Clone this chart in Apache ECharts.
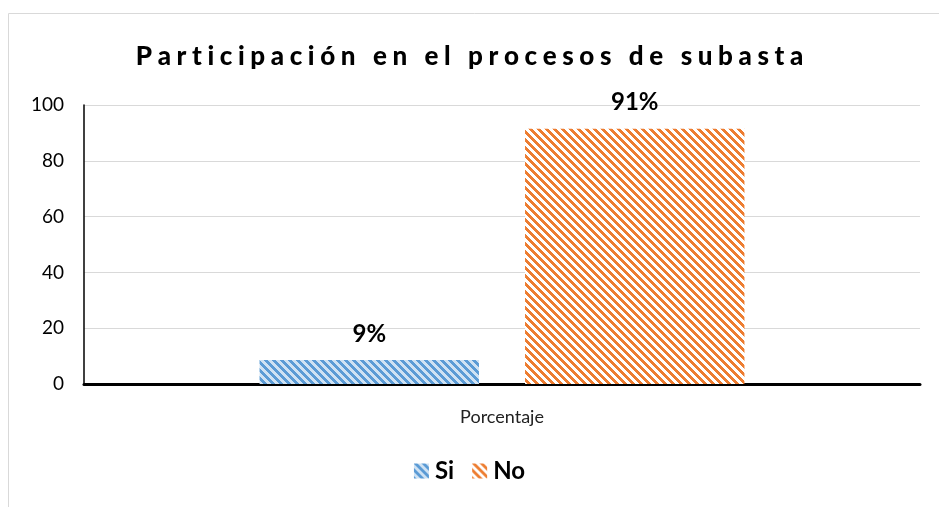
<!DOCTYPE html>
<html><head><meta charset="utf-8">
<title>Participación en el procesos de subasta</title>
<script src="https://cdn.jsdelivr.net/npm/echarts@6/dist/echarts.min.js"></script>
<style>
  html, body { margin:0; padding:0; background:#fff; }
  #chart { width:939px; height:507px; }
</style>
</head>
<body>
<div id="chart"></div>
<script type="text/javascript">
var titleText = 'Participación en el procesos de subasta';
var categories = ['Porcentaje'];
var seriesNames = ['Si', 'No'];
var siValues = [8.6];
var noValues = [91.5];
var barLabels = ['9%', '91%'];
var yTicks = { min: 0, max: 100, interval: 20 };

// diagonal hatch like the office "wide downward diagonal" fill
function hatch(fg, bg){
  var c = document.createElement('canvas');
  c.width = 8; c.height = 8;
  var ctx = c.getContext('2d');
  ctx.fillStyle = bg; ctx.fillRect(0, 0, 8, 8);
  ctx.fillStyle = fg;
  for (var y = 0; y < 8; y++)
    for (var x = 0; x < 8; x++)
      if (((x - y) % 8 + 8) % 8 < 4) ctx.fillRect(x, y, 1, 1);
  return c;
}
var bluePat = { image: hatch('#5b9bd5', '#cfe2f3'), repeat: 'repeat' };
var orangePat = { image: hatch('#ed7d31', '#ffffff'), repeat: 'repeat' };

// spaced-out title, one rich token per character
function spaced(str){
  return str.split('').map(function(ch){ return '{c|' + (ch === ' ' ? '\u00a0' : ch) + '}'; }).join('');
}

var chart = echarts.init(document.getElementById('chart'));
chart.setOption({
  animation: false,
  textStyle: { fontFamily: 'Lato, "Open Sans", sans-serif' },
  graphic: [{
    type: 'rect', silent: true,
    shape: { x: 8.5, y: 13.5, width: 960, height: 520 },
    style: { fill: 'none', stroke: '#d9d9d9', lineWidth: 1 }
  }],
  title: {
    text: spaced(titleText),
    left: 'center', top: 39,
    textStyle: {
      rich: { c: { fontSize: 26, fontWeight: 900, color: '#000', padding: [0, 2.8] } }
    }
  },
  legend: {
    data: seriesNames,
    bottom: 19, left: 'center',
    itemWidth: 15, itemHeight: 15, itemGap: 18,
    icon: 'rect',
    textStyle: { fontSize: 24, fontWeight: 'bold', color: '#000', padding: [0, 0, 0, 1] }
  },
  grid: { left: 84, right: 19, top: 105, bottom: 123 },
  xAxis: {
    type: 'category', data: categories,
    axisLine: { lineStyle: { color: '#000', width: 3 } },
    axisTick: { show: false },
    axisLabel: { fontSize: 18, color: '#222', margin: 24 }
  },
  yAxis: {
    type: 'value', min: yTicks.min, max: yTicks.max, interval: yTicks.interval,
    axisLine: { show: true, lineStyle: { color: '#000', width: 1.5 } },
    axisTick: { show: false },
    axisLabel: { fontSize: 19, color: '#000', margin: 20 },
    splitLine: { lineStyle: { color: '#d9d9d9', width: 1 } }
  },
  series: [
    {
      name: seriesNames[0], type: 'bar', data: siValues,
      barGap: '21%', barCategoryGap: '42%',
      itemStyle: { color: bluePat },
      label: { show: true, position: 'top', distance: 14, formatter: function(){ return barLabels[0]; },
               fontSize: 24, fontWeight: 'bold', color: '#000' }
    },
    {
      name: seriesNames[1], type: 'bar', data: noValues,
      itemStyle: { color: orangePat },
      label: { show: true, position: 'top', distance: 14, formatter: function(){ return barLabels[1]; },
               fontSize: 24, fontWeight: 'bold', color: '#000' }
    }
  ]
});
</script>
</body></html>
